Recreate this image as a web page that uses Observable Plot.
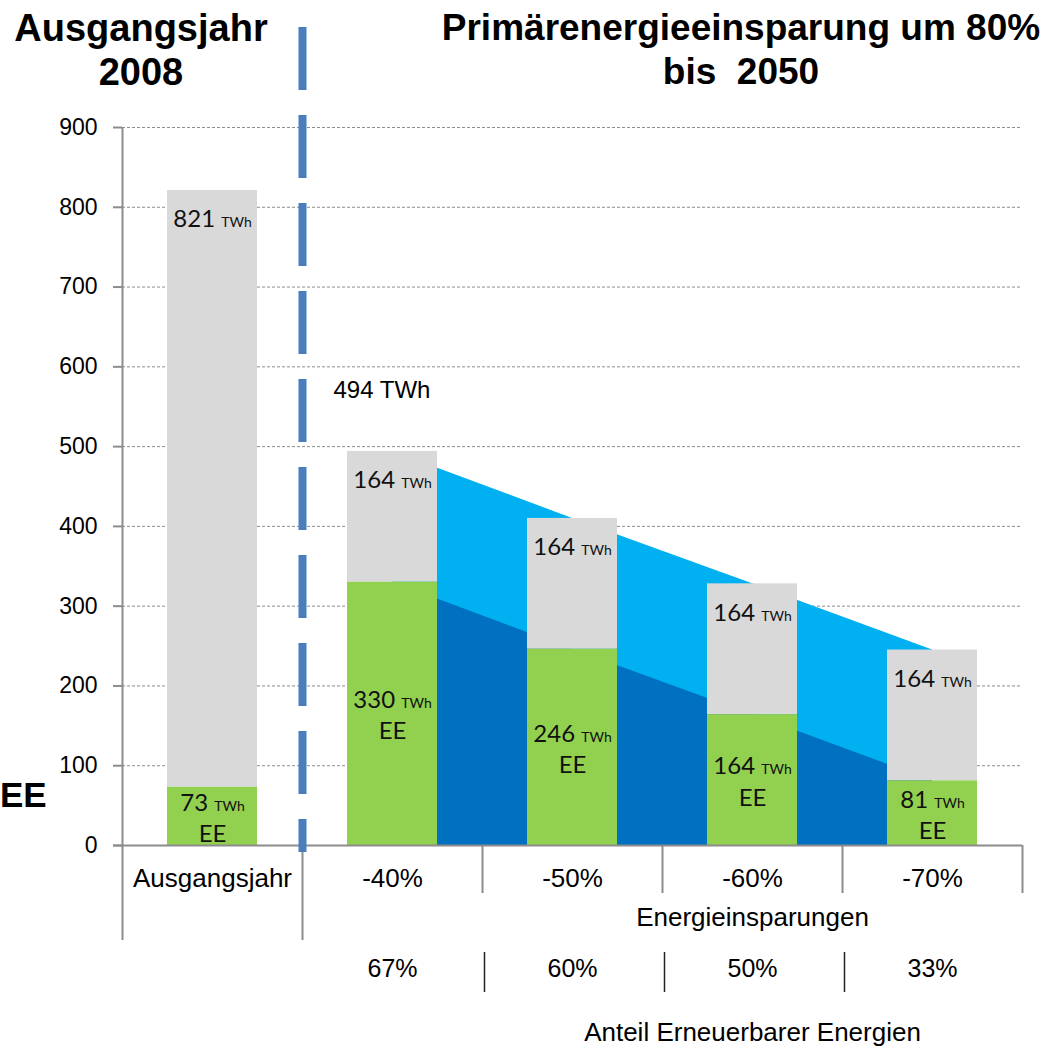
<!DOCTYPE html>
<html><head><meta charset="utf-8">
<script src="https://cdn.jsdelivr.net/npm/d3@7"></script>
<script src="https://cdn.jsdelivr.net/npm/@observablehq/plot@0.6"></script>
<style>
body{margin:0;background:#fff;}
#wrap{position:relative;width:1047px;height:1054px;overflow:hidden;font-family:"Liberation Sans",Arial,sans-serif;}
.ann{position:absolute;font-weight:bold;text-align:center;color:#000;white-space:nowrap;}
#chart{position:absolute;left:0;top:0;}
</style></head><body>
<div id="wrap">
<div id="chart"></div>
<div class="ann" style="left:0;width:282px;top:6px;font-size:38px;line-height:44px;">Ausgangsjahr<br>2008</div>
<div class="ann" style="left:431px;width:620px;top:6px;font-size:37px;line-height:44px;">Primärenergieeinsparung um 80%<br>bis&nbsp; 2050</div>
<div class="ann" style="left:0px;top:777px;font-size:35px;line-height:35px;text-align:left;">EE</div>
</div>
<script>
// ---- data ----
const categories = ["Ausgangsjahr", "-40%", "-50%", "-60%", "-70%"];
const totalTWh = [821, 494, 410, 328, 245];
const renewableTWh = [73, 330, 246, 164, 81];
const greyLabelTWh = [821, 164, 164, 164, 164];
const renewableShare = ["67%", "60%", "50%", "33%"];
const yTicks = [0, 100, 200, 300, 400, 500, 600, 700, 800, 900];
const scenarioTotalLabel = "494 TWh";

// ---- layout ----
const W = 1047, H = 1054, ML = 122, MR = 25, MT = 127, MB = 209;
const pxPerUnit = (H - MT - MB) / 900;
const v = px => px / pxPerUnit; // pixel length -> value units
const halfStep = (W - ML - MR) / categories.length / 2;

const rows = categories.map((c, i) => ({cat: c, total: totalTWh[i], ee: renewableTWh[i], grey: greyLabelTWh[i]}));
const scen = rows.slice(1);
const shares = scen.map((d, i) => ({cat: d.cat, share: renewableShare[i]}));

const fontArial = "Liberation Sans, Arial, sans-serif";
const fontLbl = "Lato, Carlito, sans-serif";
const axisGrey = "#8c8c8c";

const chart = Plot.plot({
  width: W, height: H,
  marginLeft: ML, marginRight: MR, marginTop: MT, marginBottom: MB,
  style: {background: "transparent", fontFamily: fontArial, color: "#000", overflow: "visible"},
  x: {type: "band", domain: categories, paddingInner: 0.5, paddingOuter: 0.25, axis: null},
  y: {domain: [0, 900], axis: null},
  marks: [
    // dashed grid
    Plot.ruleY(yTicks.slice(1), {stroke: axisGrey, strokeWidth: 1, strokeDasharray: "3,2"}),
    // blue wedges
    Plot.areaY(scen, {x: "cat", y: "total", fill: "#00B0F0", curve: "linear"}),
    Plot.areaY(scen, {x: "cat", y: "ee", fill: "#0070C0", curve: "linear"}),
    // bars
    Plot.barY(rows, {x: "cat", y1: "ee", y2: "total", fill: "#D9D9D9"}),
    Plot.barY(rows, {x: "cat", y1: 0, y2: "ee", fill: "#92D050"}),
    // axes lines
    Plot.ruleY([0], {stroke: axisGrey, strokeWidth: 2, insetLeft: -9}),
    Plot.ruleX([categories[0]], {x: d => d, dx: -halfStep, y1: 900, y2: -v(95), stroke: axisGrey, strokeWidth: 2}),
    Plot.ruleX([categories[1]], {x: d => d, dx: -halfStep, y1: 0, y2: -v(95), stroke: axisGrey, strokeWidth: 2}),
    Plot.ruleX(categories.slice(2), {x: d => d, dx: -halfStep, y1: 0, y2: -v(48), stroke: axisGrey, strokeWidth: 2}),
    Plot.ruleX([categories[4]], {x: d => d, dx: halfStep, y1: 0, y2: -v(48), stroke: axisGrey, strokeWidth: 2}),
    // separator between base year and scenarios
    Plot.ruleX([categories[1]], {x: d => d, dx: -halfStep, y1: v(845 - 27), y2: -v(7), stroke: "#4A7EBB", strokeWidth: 8, strokeDasharray: "63,25"}),
    // small separators in the share row
    Plot.ruleX(categories.slice(2), {x: d => d, dx: -halfStep + 2, y1: -v(107), y2: -v(147), stroke: "#222", strokeWidth: 1.5}),
    // y axis
    Plot.axisY({ticks: yTicks, tickSize: 9, tickPadding: 16, stroke: axisGrey, strokeWidth: 2, fill: "#000", fontSize: 23, fontFamily: fontArial, label: null}),
    // x labels
    Plot.text(categories, {x: d => d, frameAnchor: "bottom", dy: 33, fontSize: 26, fontFamily: fontArial, lineAnchor: "middle"}),
    Plot.text(["Energieinsparungen"], {x: () => categories[3], frameAnchor: "bottom", dy: 80, fontSize: 26, fontFamily: fontArial}),
    Plot.text(shares, {x: "cat", text: "share", frameAnchor: "bottom", dy: 131, fontSize: 25, fontFamily: fontArial}),
    Plot.text(["Anteil Erneuerbarer Energien"], {x: () => categories[3], frameAnchor: "bottom", dy: 195, fontSize: 26, fontFamily: fontArial}),
    // bar labels
    Plot.text(rows, {x: "cat", y: "total", dy: 29, text: d => `${d.grey} TWh`, fontSize: 24, fontFamily: fontLbl, fill: "#111"}),
    Plot.text(rows, {x: "cat", y: d => d.ee / 2, text: d => `${d.ee} TWh\nEE`, lineHeight: 1.3, fontSize: 24, fontFamily: fontLbl, fill: "#111"}),
    Plot.text([scen[0]], {x: "cat", y: "total", dx: -59, dy: -61, text: () => scenarioTotalLabel, textAnchor: "start", fontSize: 24, fontFamily: fontArial})
  ]
});
document.getElementById("chart").appendChild(chart);

// smaller "TWh" unit inside the bar labels
chart.querySelectorAll('g[font-family^="Lato"] text, g[font-family^="Lato"] tspan').forEach(el => {
  if (el.childElementCount) return;
  const m = /^(\d+) TWh$/.exec(el.textContent);
  if (!m) return;
  el.textContent = m[1] + " ";
  const t = document.createElementNS("http://www.w3.org/2000/svg", "tspan");
  t.setAttribute("font-size", "14");
  t.textContent = "TWh";
  el.appendChild(t);
});
</script>
</body></html>
